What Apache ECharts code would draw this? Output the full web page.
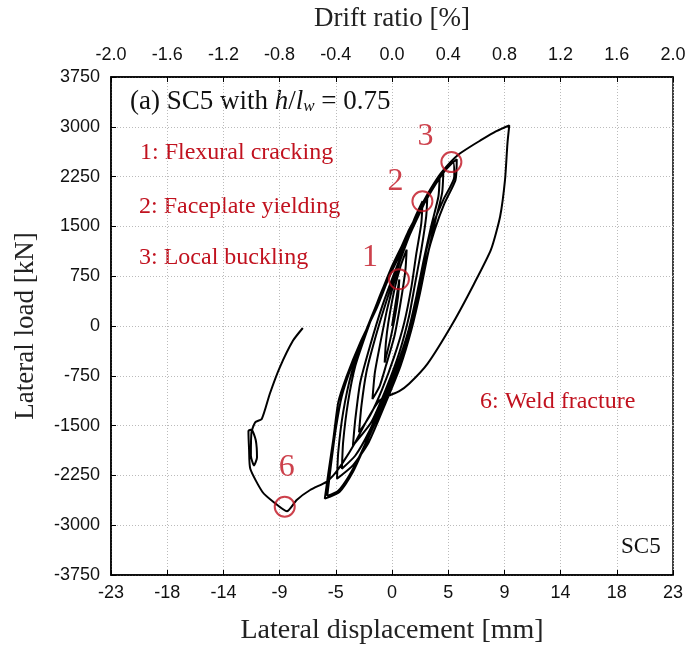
<!DOCTYPE html>
<html>
<head>
<meta charset="utf-8">
<script src="https://cdn.jsdelivr.net/npm/echarts@6/dist/echarts.min.js"></script>
<style>
  html, body { margin: 0; padding: 0; background: #fff; }
  #chart { width: 692px; height: 653px; }
</style>
</head>
<body>
<div id="chart"></div>
<script>
// tick values
var dispTicks = [-23, -18.4, -13.8, -9.2, -4.6, 0, 4.6, 9.2, 13.8, 18.4, 23];
var driftTicks = [-2.0, -1.6, -1.2, -0.8, -0.4, 0.0, 0.4, 0.8, 1.2, 1.6, 2.0];
var loadTicks = [-3750, -3000, -2250, -1500, -750, 0, 750, 1500, 2250, 3000, 3750];

// displacement [mm], load [kN]
var smallCycles = [
  [0, 0], [0.3, 350], [0.6, 700], [0.5, 450], [0.2, 100], [-0.2, -250], [-0.6, -550], [-0.5, -250],
  [-0.3, 50], [0.2, 550], [0.7, 900], [1.2, 1150], [1.1, 850], [0.7, 350], [0.2, -150], [-0.5, -600],
  [-1.0, -900], [-1.6, -1100], [-1.4, -700], [-1.0, -300], [-0.4, 250], [0.3, 750]
];
var midCycles = [
  [1.0, 1200], [1.8, 1600], [2.5, 1880], [2.4, 1550], [2.0, 1100], [1.6, 600], [1.0, 50], [0.2, -450],
  [-0.8, -950], [-1.8, -1350], [-2.7, -1600], [-2.5, -1200], [-2.1, -700], [-1.4, -200], [-0.5, 350],
  [0.5, 900], [1.5, 1400], [2.3, 1750], [2.9, 1980], [2.8, 1650], [2.4, 1150], [1.9, 650], [1.4, 150],
  [0.6, -400], [-0.5, -950], [-1.7, -1450], [-3.2, -1800], [-3.0, -1400], [-2.6, -850], [-1.8, -300],
  [-0.8, 300], [0.3, 850], [1.4, 1350]
];
var largeCycles = [
  [2.4, 1750], [3.3, 2100], [3.9, 2250], [3.8, 1950], [3.2, 1500], [2.6, 1000], [2.0, 450], [1.3, -100],
  [0.4, -600], [-0.7, -1100], [-1.9, -1600], [-3.0, -1950], [-4.1, -2150], [-4.0, -1750], [-3.6, -1150],
  [-3.0, -600], [-2.0, -50], [-0.9, 500], [0.2, 950], [1.4, 1450],
  [2.6, 1850], [3.6, 2180], [4.2, 2300], [4.1, 2000], [3.5, 1550], [2.9, 1050], [2.3, 500], [1.6, -50],
  [0.7, -600], [-0.5, -1150], [-1.9, -1750], [-3.2, -2100], [-4.5, -2300], [-4.4, -1900], [-4.0, -1300],
  [-3.3, -700], [-2.3, -150], [-1.1, 400], [0, 900], [1.2, 1350],
  [2.5, 1800], [3.8, 2200], [5.0, 2470], [5.1, 2250], [4.2, 1900], [3.3, 1500], [2.7, 1050], [2.2, 600],
  [1.7, 100], [1.0, -350], [0.2, -800], [-1.0, -1300], [-2.2, -1800], [-3.2, -2200], [-4.3, -2500],
  [-5.5, -2600], [-5.2, -2200], [-4.8, -1700], [-4.4, -1150], [-3.7, -750], [-2.6, -250], [-1.3, 250],
  [-0.2, 750], [1.1, 1250],
  [2.3, 1750], [3.8, 2220], [4.8, 2430], [5.3, 2510], [5.2, 2200], [4.3, 1850], [3.5, 1450], [2.8, 1000],
  [2.2, 500], [1.6, 0], [0.8, -450], [-0.1, -900], [-1.3, -1400], [-2.5, -1900], [-3.5, -2250],
  [-4.4, -2480], [-5.3, -2560], [-5.0, -2100], [-4.6, -1550], [-4.1, -1050], [-3.3, -600], [-2.2, -100],
  [-0.9, 450], [0.2, 950], [1.3, 1400]
];
var peakCycle = [
  [2.5, 1850], [3.8, 2250], [4.8, 2470], [5.5, 2590], [6.4, 2700], [7.2, 2790], [8.5, 2930], [9.2, 2990],
  [9.6, 3020], [9.45, 2750], [9.25, 2200], [8.85, 1650], [8.1, 1150], [6.7, 630], [5.0, 50], [2.9, -570],
  [1.4, -870], [0.6, -980], [-1.0, -1120]
];
var failureBranch = [
  [-2.0, -1400], [-3.0, -1750], [-4.0, -2050], [-4.8, -2250], [-5.4, -2350], [-6.7, -2470], [-7.8, -2620],
  [-8.6, -2790], [-9.7, -2650], [-10.6, -2500], [-11.6, -2150], [-11.7, -1850], [-11.75, -1580],
  [-11.5, -1560], [-11.15, -1720], [-11.05, -1980], [-11.3, -2100], [-11.55, -1950], [-11.5, -1600],
  [-11.2, -1450], [-10.66, -1400], [-10.0, -1020], [-9.2, -630], [-8.1, -220], [-7.3, -30]
];

// damage events (circles)
var eventNames = ['1', '2', '3', '6'];
var eventPoints = [[0.57, 703], [2.49, 1878], [4.86, 2468], [-8.78, -2722]];
var eventLabelOffsets = [[-29, -22], [-27, -20], [-26, -26], [2, -39]];

var legendNotes = ['1: Flexural cracking', '2: Faceplate yielding', '3: Local buckling', '6: Weld fracture'];

(function() {
  var myChart = echarts.init(document.getElementById('chart'));
  var serif = 'Liberation Serif';
  var sans = 'Liberation Sans';
  var red = '#c1121f';

  var curve = [].concat(smallCycles, midCycles, largeCycles, peakCycle, failureBranch);

  var events = eventPoints.map(function(p, i) {
    return {
      value: p,
      label: { formatter: eventNames[i], offset: eventLabelOffsets[i] }
    };
  });

  var axisLine = { onZero: false, lineStyle: { color: '#000', width: 1.5 } };
  var axisTick = { inside: true, length: 5, lineStyle: { color: '#000', width: 1 } };
  var nameStyle = { fontFamily: serif, fontSize: 27, color: '#222' };

  var option = {
    animation: false,
    backgroundColor: '#fff',
    grid: {
      left: 111, right: 19, top: 76, bottom: 78,
      show: true, borderColor: '#000', borderWidth: 1.5
    },
    xAxis: [
      {
        type: 'value',
        min: dispTicks[0], max: dispTicks[dispTicks.length - 1], interval: 4.6,
        name: 'Lateral displacement [mm]',
        nameLocation: 'middle', nameGap: 42,
        nameTextStyle: { fontFamily: serif, fontSize: 28, color: '#222' },
        axisLine: axisLine, axisTick: axisTick,
        axisLabel: {
          fontFamily: sans, fontSize: 18, color: '#111', margin: 9,
          formatter: function(v) { return String(Math.round(v)); }
        },
        splitLine: { show: true, lineStyle: { color: '#bbb', type: [1, 2], width: 1 } }
      },
      {
        type: 'value', position: 'top',
        min: driftTicks[0], max: driftTicks[driftTicks.length - 1], interval: 0.4,
        name: 'Drift ratio [%]',
        nameLocation: 'middle', nameGap: 45,
        nameTextStyle: nameStyle,
        axisLine: axisLine, axisTick: axisTick,
        axisLabel: {
          fontFamily: sans, fontSize: 18, color: '#111', margin: 13,
          formatter: function(v) { return Math.abs(v) < 1e-9 ? '0.0' : v.toFixed(1); }
        },
        splitLine: { show: false }
      }
    ],
    yAxis: {
      type: 'value',
      min: loadTicks[0], max: loadTicks[loadTicks.length - 1], interval: 750,
      name: 'Lateral load [kN]',
      nameLocation: 'middle', nameGap: 72,
      nameTextStyle: nameStyle,
      axisLine: axisLine, axisTick: axisTick,
      axisLabel: {
        fontFamily: sans, fontSize: 18, color: '#111', margin: 11,
        formatter: function(v) { return String(v); }
      },
      splitLine: { show: true, lineStyle: { color: '#bbb', type: [1, 2], width: 1 } }
    },
    graphic: [
      {
        type: 'text', left: 130, top: 88,
        style: {
          text: '{a|(a) SC5 with }{i|h}{a|/}{i|l}{s|w}{a| = 0.75}',
          rich: {
            a: { fontFamily: serif, fontSize: 27, fill: '#111' },
            i: { fontFamily: serif, fontSize: 27, fontStyle: 'italic', fill: '#111' },
            s: { fontFamily: serif, fontSize: 17, fontStyle: 'italic', fill: '#111', verticalAlign: 'bottom', padding: [10, 0, 0, 0] }
          }
        }
      },
      { type: 'text', left: 140, top: 141, style: { text: legendNotes[0], fontFamily: serif, fontSize: 24, fill: red } },
      { type: 'text', left: 139, top: 195, style: { text: legendNotes[1], fontFamily: serif, fontSize: 24, fill: red } },
      { type: 'text', left: 139, top: 246, style: { text: legendNotes[2], fontFamily: serif, fontSize: 24, fill: red } },
      { type: 'text', left: 480, top: 390, style: { text: legendNotes[3], fontFamily: serif, fontSize: 24, fill: red } },
      { type: 'text', left: 621, top: 535, style: { text: 'SC5', fontFamily: serif, fontSize: 23, fill: '#111' } }
    ],
    series: [
      {
        type: 'line',
        data: curve,
        showSymbol: false,
        smooth: 0.2,
        lineStyle: { color: '#000', width: 2 },
        z: 3
      },
      {
        type: 'scatter',
        data: events,
        symbol: 'circle',
        symbolSize: 20,
        itemStyle: { color: 'rgba(0,0,0,0)', borderColor: red, borderWidth: 2 },
        label: {
          show: true, position: 'inside',
          fontFamily: serif, fontSize: 32, color: red
        },
        z: 5
      }
    ]
  };
  myChart.setOption(option);
  window.addEventListener('resize', function() {
    myChart.resize();
  });
})();
</script>
</body>
</html>
